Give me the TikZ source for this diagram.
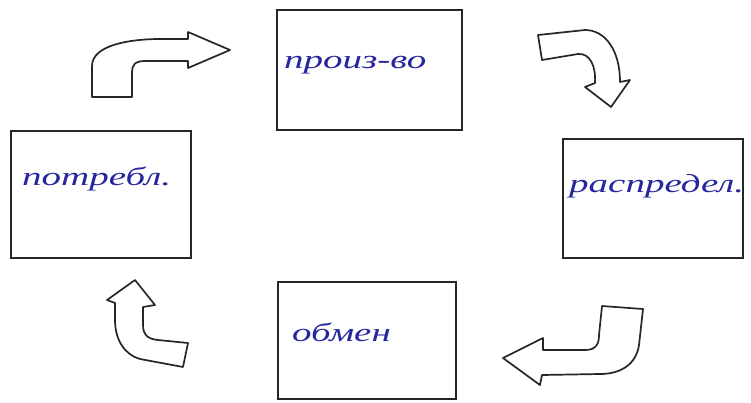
\documentclass[tikz,border=0pt]{standalone}
\usepackage{fontspec}
\setmainfont{Liberation Serif}
\newcommand{\handtext}[1]{\scalebox{1.5}[1]{#1}}
\begin{document}
\begin{tikzpicture}[x=1pt,y=-1pt,
  stagebox/.style={draw=black!85,line width=1.8pt,fill=white},
  hand/.style={text=blue!55!black!85,font=\itshape\fontsize{26}{28}\selectfont,anchor=base west,inner sep=0pt},
  blockarrow/.style={draw=black!85,line width=1.7pt,fill=white,line join=round}]
\useasboundingbox (0,0) rectangle (751,402);
% boxes
\draw[stagebox] (277,10) rectangle (462,130);
\draw[stagebox] (563,139) rectangle (743,258);
\draw[stagebox] (278,282) rectangle (456,399);
\draw[stagebox] (11,131) rectangle (191,258);
% texts
\node[hand] (t1) at (284,68) {\handtext{произ-во}};
\node[hand] (t2) at (569,192) {\handtext{распредел.}};
\node[hand] (t3) at (292,341) {\handtext{обмен}};
\node[hand] (t4) at (22,185) {\handtext{потребл.}};
% arrow top-left
\draw[blockarrow] (92,97) -- (92,66) .. controls (92,45) and (130,39) .. (160,39) -- (188,39)
  -- (188,32) -- (230,50) -- (188,68) -- (188,61) -- (145,61)
  .. controls (135,61) and (132,65) .. (132,72) -- (132,97) -- cycle;
% arrow top-right
\draw[blockarrow] (538,35) -- (542,60) -- (578,54)
  .. controls (590,53) and (596,66) .. (595,83)
  -- (585,87) -- (611,107) -- (630,80) -- (620,82)
  .. controls (620,50) and (605,30) .. (585,30) -- cycle;
% arrow bottom-right
\draw[blockarrow] (602,306) -- (643,309) -- (639,345)
  .. controls (636,365) and (620,374) .. (600,374) -- (542,375)
  -- (540,385) -- (503,358) -- (543,338) -- (543,350) -- (585,350)
  .. controls (596,350) and (599,344) .. (599,335) -- cycle;
% arrow bottom-left
\draw[blockarrow] (188,343) -- (183,367) -- (140,359)
  .. controls (125,355) and (115,340) .. (115,320) -- (115,303)
  -- (107,300) -- (135,280) -- (155,305) -- (143,307) -- (143,325)
  .. controls (143,335) and (148,339) .. (158,340) -- cycle;
\end{tikzpicture}
\end{document}
